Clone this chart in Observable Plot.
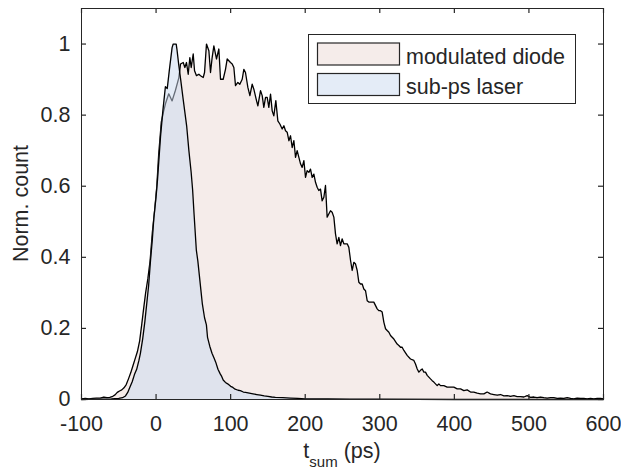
<!DOCTYPE html>
<html>
<head>
<meta charset="utf-8">
<script src="https://cdn.jsdelivr.net/npm/d3@7"></script>
<script src="https://cdn.jsdelivr.net/npm/@observablehq/plot@0.6"></script>
<style>
  html, body { margin: 0; padding: 0; background: #fff; }
  #chart { width: 621px; height: 472px; }
</style>
</head>
<body>
<div id="chart"></div>
<script>
// ---- data ----
const xTicks = [-100, 0, 100, 200, 300, 400, 500, 600];
const yTicks = [0, 0.2, 0.4, 0.6, 0.8, 1];
const yTickLabels = ["0", "0.2", "0.4", "0.6", "0.8", "1"];
const seriesNames = ["modulated diode", "sub-ps laser"];
const xLabelMain = "t";
const xLabelSub = "sum";
const xLabelUnit = " (ps)";
const yLabel = "Norm. count";

const diodeT = [-100,-95,-90,-85,-80,-75,-70,-66,-62,-58,-55,-52,-49,-46,-43,-40,-37,-34,-31,-28,-25,-22,-19,-17,-14,-11,-8,-5,-2,1,3.5,7,10,13,17,21.5,26,30.5,32.8,36.4,38.6,40.8,43.1,45.3,47.1,49.8,51.6,54.2,57.4,59.6,63.2,65,67.6,70.8,73,75.2,77.5,81,84.2,86.4,90,93.1,95.4,99.8,102.1,104.3,106.5,109.7,112.3,115.5,117.7,119.9,123.1,125.8,128.9,131.1,134.7,136.5,140.1,142.3,144.5,146.8,149,151.2,153.5,155.7,157.9,160.6,163.3,166,169.1,171.4,173.6,175.8,178.1,180.3,182.5,184.8,187,189.2,191.5,193.7,195.9,198.2,200.4,202.6,204.9,207.1,209.3,211.6,213.8,216,218.2,220.5,222.7,225,227.2,229.4,231.6,233.9,236.1,238.4,240.6,242.8,245.1,247.3,249.5,251.8,254,256.3,258.5,260.8,263,265.2,267.5,269.7,271.9,274.2,276.4,278.6,280.9,283.1,285.3,289.8,292,296.5,298.7,301,303.2,305.5,307.7,309.9,312.2,314.4,316.6,318.9,323.3,325.6,327.8,330,332.3,336.7,341.2,345.7,347.9,350.2,352.4,354.6,356.9,359.1,361.3,363.6,365.8,368,370.3,372.5,374.7,377,379.2,381.4,385.9,390.4,394.9,399.3,403.8,408.3,412.7,417.2,421.7,426.1,430.6,435.1,439.6,444,448.5,453,457.5,461.9,466.4,470.8,475.3,479.8,484.2,488.7,493.2,497.7,502,506.6,511,515.5,520,524.5,529,533.4,538,542.4,546.8,551.3,556,560,564.7,569.2,573.7,578,582.6,587,591.6,596,600];
const diodeV = [0.002,0.003,0.002,0.003,0.004,0.004,0.007,0.005,0.006,0.009,0.013,0.02,0.024,0.027,0.033,0.042,0.058,0.075,0.095,0.115,0.135,0.165,0.215,0.25,0.30,0.34,0.39,0.47,0.53,0.60,0.69,0.78,0.81,0.835,0.86,0.84,0.87,0.905,0.944,0.948,0.934,0.948,0.915,0.962,0.934,0.972,0.925,0.911,0.915,0.911,0.906,0.920,1.0,0.981,0.920,0.962,0.995,0.958,0.986,0.901,0.901,0.929,0.958,0.948,0.944,0.934,0.883,0.892,0.887,0.901,0.929,0.920,0.878,0.855,0.887,0.873,0.841,0.826,0.869,0.855,0.822,0.850,0.850,0.822,0.859,0.812,0.798,0.841,0.784,0.775,0.761,0.770,0.756,0.752,0.728,0.742,0.709,0.728,0.681,0.700,0.681,0.663,0.653,0.672,0.625,0.644,0.639,0.648,0.625,0.634,0.611,0.597,0.588,0.592,0.559,0.569,0.602,0.513,0.522,0.531,0.527,0.513,0.466,0.438,0.456,0.433,0.452,0.438,0.438,0.438,0.428,0.391,0.363,0.386,0.381,0.363,0.330,0.325,0.325,0.311,0.306,0.278,0.274,0.274,0.274,0.255,0.250,0.250,0.246,0.217,0.199,0.194,0.189,0.180,0.175,0.170,0.156,0.152,0.147,0.147,0.138,0.124,0.114,0.110,0.100,0.086,0.077,0.082,0.086,0.077,0.077,0.068,0.063,0.058,0.053,0.049,0.044,0.039,0.044,0.039,0.039,0.035,0.035,0.035,0.030,0.030,0.025,0.027,0.021,0.021,0.018,0.016,0.016,0.021,0.016,0.014,0.012,0.014,0.010,0.011,0.009,0.011,0.008,0.008,0.007,0.011,0.006,0.007,0.005,0.007,0.005,0.004,0.005,0.005,0.003,0.004,0.003,0.005,0.003,0.002,0.004,0.003,0.003,0.002,0.003,0.002,0.003,0.003,0.002];

const laserT = [-100,-80,-60,-50,-45,-41,-38,-35,-32,-29,-26,-23,-21,-18,-15,-13,-10,-7.5,-5,-3,0,2,4,6,9,12.5,15,18,21.5,23,27,28,30.5,33,36,38.5,41,44,47,49,51,54,56,58,60,62,65,67.5,69,72,75,78,80,83,86,88,90,93,96,100,103,106,110,113,117,120,125,130,135,140,145,150,155,160,170,180,190,200,230,260,300,400,600];
const laserV = [0,0.001,0.002,0.003,0.005,0.01,0.02,0.035,0.05,0.07,0.085,0.11,0.13,0.17,0.22,0.26,0.32,0.39,0.45,0.51,0.57,0.62,0.68,0.74,0.81,0.88,0.875,0.93,0.99,1.0,1.0,0.985,0.94,0.90,0.85,0.81,0.77,0.70,0.64,0.59,0.52,0.42,0.39,0.35,0.31,0.27,0.23,0.21,0.175,0.15,0.13,0.115,0.105,0.085,0.072,0.065,0.055,0.048,0.044,0.037,0.034,0.029,0.026,0.025,0.021,0.020,0.018,0.016,0.014,0.012,0.010,0.009,0.007,0.006,0.005,0.004,0.003,0.002,0.002,0.001,0.001,0,0];

// ---- styling ----
const diodeFill = "#f5ecea";
const laserFill = "#c9daf0";
const axisColor = "#262626";
const fontFamily = "'Liberation Sans', Arial, Helvetica, sans-serif";
const fontPx = 21.5;

const diode = diodeT.map((t, i) => ({t, v: diodeV[i]}));
const laser = laserT.map((t, i) => ({t, v: laserV[i]}));

const W = 621, H = 472;
const mL = 81, mR = 18, mT = 8, mB = 73;
const innerW = W - mL - mR, innerH = H - mT - mB;
const tickLen = 5;

const chart = Plot.plot({
  width: W,
  height: H,
  marginLeft: mL,
  marginRight: mR,
  marginTop: mT,
  marginBottom: mB,
  style: {fontFamily, fontSize: fontPx + "px", color: axisColor, background: "#fff"},
  x: {domain: [-100, 600], ticks: xTicks, tickSize: 0, tickPadding: 16, tickFormat: d => String(d), label: null},
  y: {domain: [0, 1.1], ticks: yTicks, tickSize: 0, tickPadding: 11, tickFormat: d => yTickLabels[yTicks.indexOf(d)], label: null},
  marks: [
    Plot.areaY(diode, {x: "t", y: "v", fill: diodeFill}),
    Plot.line(diode, {x: "t", y: "v", stroke: "#000", strokeWidth: 1.3}),
    Plot.areaY(laser, {x: "t", y: "v", fill: laserFill, fillOpacity: 0.5}),
    Plot.line(laser, {x: "t", y: "v", stroke: "#000", strokeWidth: 1.3}),
    Plot.tickX(xTicks, {x: d => d, stroke: axisColor, strokeWidth: 1.2, insetTop: innerH - tickLen}),
    Plot.tickX(xTicks, {x: d => d, stroke: axisColor, strokeWidth: 1.2, insetBottom: innerH - tickLen}),
    Plot.tickY(yTicks, {y: d => d, stroke: axisColor, strokeWidth: 1.2, insetRight: innerW - tickLen}),
    Plot.tickY(yTicks, {y: d => d, stroke: axisColor, strokeWidth: 1.2, insetLeft: innerW - tickLen}),
    Plot.frame({stroke: axisColor})
  ]
});
document.getElementById("chart").appendChild(chart);

const svg = d3.select(chart);

// x label with subscript
const xl = svg.append("text")
  .attr("x", mL + innerW / 2)
  .attr("y", 458)
  .attr("text-anchor", "middle")
  .attr("fill", axisColor)
  .style("font-family", fontFamily)
  .style("font-size", fontPx + "px");
xl.append("tspan").text(xLabelMain);
xl.append("tspan").attr("dy", 9).style("font-size", "15px").text(xLabelSub);
xl.append("tspan").attr("dy", -9).text(xLabelUnit);

// y label
svg.append("text")
  .attr("transform", `translate(28,${mT + innerH / 2}) rotate(-90)`)
  .attr("text-anchor", "middle")
  .attr("fill", axisColor)
  .style("font-family", fontFamily)
  .style("font-size", fontPx + "px")
  .text(yLabel);

// legend
const lg = svg.append("g").attr("text-anchor", "start");
lg.append("rect").attr("x", 308.5).attr("y", 34.5).attr("width", 267).attr("height", 69)
  .attr("fill", "#fff").attr("stroke", axisColor).attr("stroke-width", 1);
const fills = [diodeFill, laserFill];
const opac = [1, 0.5];
const rowsY = [43, 73.5];
seriesNames.forEach((name, i) => {
  lg.append("rect").attr("x", 317.5).attr("y", rowsY[i]).attr("width", 82).attr("height", 22)
    .attr("fill", fills[i]).attr("fill-opacity", opac[i]);
  lg.append("rect").attr("x", 317.5).attr("y", rowsY[i]).attr("width", 82).attr("height", 22)
    .attr("fill", "none").attr("stroke", axisColor).attr("stroke-width", 1.2);
  lg.append("text").attr("x", 406).attr("y", rowsY[i] + 20.5)
    .attr("text-anchor", "start")
    .attr("fill", axisColor)
    .style("font-family", fontFamily).style("font-size", fontPx + "px")
    .text(name);
});
</script>
</body>
</html>
